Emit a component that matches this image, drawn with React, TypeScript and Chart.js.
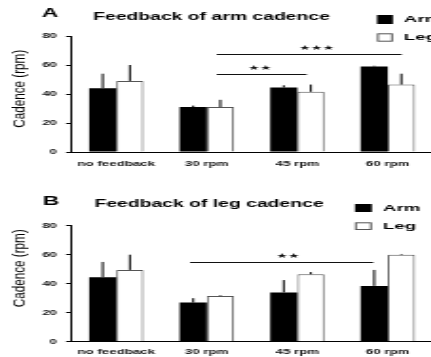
import React, { useEffect, useRef } from 'react';
import { Chart, registerables } from 'chart.js';

Chart.register(...registerables);

// ---------- data ----------
const categories = ['no feedback', '30 rpm', '45 rpm', '60 rpm'];
const yTickValues = [0, 20, 40, 60, 80];
const seriesNames = ['Arm', 'Leg'];
const yTitle = 'Cadence (rpm)';

const titleA = 'Feedback of arm cadence';
const armA = [44, 31, 44.5, 59];
const armErrA = [10, 1, 1.5, 0.5];
const legA = [49, 31, 41.5, 46.5];
const legErrA = [11, 5, 5, 7.5];
// significance brackets: from / to are category positions, level in rpm
const sigFromA = [1.11, 1.11];
const sigToA = [3.154, 2.104];
const sigLevelA = [67.8, 54];
const sigLabelA = ['★★★', '★★'];

const titleB = 'Feedback of leg cadence';
const armB = [44.5, 27, 34, 38.5];
const armErrB = [10.5, 3, 8.5, 11];
const legB = [49.5, 31.5, 46.5, 60];
const legErrB = [10.5, 0.5, 1.5, 0.5];
const sigFromB = [0.815];
const sigToB = [2.84];
const sigLevelB = [54.8];
const sigLabelB = ['★★'];

// ---------- layout (canvas units, before horizontal stretch) ----------
const S = 1.9; // horizontal stretch of the picture
const W = 232;
const FONT = '"Liberation Sans", Arial, sans-serif';

const panelA = {
  letter: 'A', title: titleA, arm: armA, armErr: armErrA, leg: legA, legErr: legErrA,
  sigFrom: sigFromA, sigTo: sigToA, sigLevel: sigLevelA, sigLabel: sigLabelA, sigT: [0.54, 0.48], sigDy: 6.7,
  top: 0, height: 180, padTop: 36, xAxisH: 28, xPad: 7.5,
  letterX: 22.1, letterY: 17, titleX: 111.3, titleY: 20,
  legX: 198.4, legW: 8.4, legRectY: [15, 33.3], legRectH: [9, 8.4], legTextX: 212.6, legTextY: [19.5, 37.5],
  yTitleX: 10.3, yTitleY: 88.8,
};
const panelB = {
  letter: 'B', title: titleB, arm: armB, armErr: armErrB, leg: legB, legErr: legErrB,
  sigFrom: sigFromB, sigTo: sigToB, sigLevel: sigLevelB, sigLabel: sigLabelB, sigT: [0.535], sigDy: 6.3,
  top: 180, height: 177, padTop: 45.7, xAxisH: 15.3, xPad: 6,
  letterX: 22.6, letterY: 25, titleX: 110, titleY: 27.3,
  legX: 186.8, legW: 8.9, legRectY: [24, 42.3], legRectH: [8, 7.7], legTextX: 201.6, legTextY: [28, 46],
  yTitleX: 10.3, yTitleY: 88.3,
};

function makeDecor(cfg: any) {
  return {
    id: 'decor' + cfg.letter,
    afterDatasetsDraw(chart: any) {
      const ctx = chart.ctx;
      const xs = chart.scales.x;
      const ys = chart.scales.y;
      ctx.save();
      ctx.strokeStyle = '#000';
      ctx.lineWidth = 1;
      chart.data.datasets.forEach((ds: any, di: number) => {
        const meta = chart.getDatasetMeta(di);
        meta.data.forEach((el: any, i: number) => {
          const topPx = ys.getPixelForValue(ds.data[i] + ds.errors[i]);
          ctx.beginPath();
          ctx.moveTo(el.x, el.y);
          ctx.lineTo(el.x, topPx);
          ctx.stroke();
        });
      });
      // significance brackets
      cfg.sigFrom.forEach((f: number, k: number) => {
        const x1 = xs.getPixelForValue(f);
        const x2 = xs.getPixelForValue(cfg.sigTo[k]);
        const py = Math.round(ys.getPixelForValue(cfg.sigLevel[k])) + 0.5;
        ctx.strokeStyle = '#111';
        ctx.beginPath();
        ctx.moveTo(x1, py);
        ctx.lineTo(x2, py);
        ctx.stroke();
        ctx.fillStyle = '#111';
        ctx.font = '7px "DejaVu Sans"';
        ctx.textAlign = 'center';
        ctx.textBaseline = 'middle';
        ctx.fillText(cfg.sigLabel[k], x1 + (x2 - x1) * cfg.sigT[k], py - cfg.sigDy);
      });
      ctx.restore();
    },
    afterDraw(chart: any) {
      const ctx = chart.ctx;
      ctx.save();
      ctx.fillStyle = '#000';
      // panel letter
      ctx.font = `bold 12px ${FONT}`;
      ctx.textAlign = 'left';
      ctx.textBaseline = 'alphabetic';
      ctx.fillText(cfg.letter, cfg.letterX, cfg.letterY);
      // title
      ctx.font = `bold 10.2px ${FONT}`;
      ctx.textAlign = 'center';
      ctx.fillText(cfg.title, cfg.titleX, cfg.titleY);
      // legend
      chart.data.datasets.forEach((ds: any, di: number) => {
        const ry = cfg.legRectY[di];
        const rh = cfg.legRectH[di];
        ctx.fillStyle = ds.backgroundColor;
        ctx.fillRect(cfg.legX, ry, cfg.legW, rh);
        if (ds.borderWidth) {
          ctx.strokeStyle = '#555';
          ctx.lineWidth = 1;
          ctx.strokeRect(cfg.legX + 0.5, ry + 0.5, cfg.legW - 1, rh - 1);
        }
        ctx.fillStyle = '#000';
        ctx.font = `bold 9.8px ${FONT}`;
        ctx.textAlign = 'left';
        ctx.textBaseline = 'middle';
        ctx.fillText(ds.label, cfg.legTextX, cfg.legTextY[di]);
      });
      // y axis title (condensed)
      ctx.translate(cfg.yTitleX, cfg.yTitleY);
      ctx.scale(0.82, 1);
      ctx.rotate(-Math.PI / 2);
      ctx.font = `11.7px ${FONT}`;
      ctx.textAlign = 'center';
      ctx.textBaseline = 'middle';
      ctx.fillStyle = '#000';
      ctx.fillText(yTitle, 0, 0);
      ctx.restore();
    },
  };
}

function Panel({ cfg }: { cfg: any }) {
  const ref = useRef<HTMLCanvasElement | null>(null);
  useEffect(() => {
    const chart = new Chart(ref.current as HTMLCanvasElement, {
      type: 'bar',
      data: {
        labels: categories,
        datasets: [
          {
            label: seriesNames[0],
            data: cfg.arm,
            errors: cfg.armErr,
            backgroundColor: '#000',
            borderWidth: 0,
            categoryPercentage: 0.6,
            barPercentage: 1,
          } as any,
          {
            label: seriesNames[1],
            data: cfg.leg,
            errors: cfg.legErr,
            backgroundColor: '#fff',
            borderColor: '#555',
            borderWidth: 1,
            categoryPercentage: 0.6,
            barPercentage: 1,
          } as any,
        ],
      },
      options: {
        responsive: false,
        maintainAspectRatio: false,
        animation: false,
        devicePixelRatio: 1,
        layout: { padding: { top: cfg.padTop, left: 0, right: 4.1, bottom: 0 } },
        plugins: { legend: { display: false }, tooltip: { enabled: false }, title: { display: false } },
        scales: {
          x: {
            grid: { display: false, drawTicks: false },
            border: { display: true, color: '#000', width: 1 },
            ticks: {
              color: '#111',
              font: { family: FONT, size: 7, weight: 'bold' },
              padding: cfg.xPad,
              maxRotation: 0,
              autoSkip: false,
            },
            afterFit: (scale: any) => { scale.height = cfg.xAxisH; },
          },
          y: {
            min: 0,
            max: 80,
            afterBuildTicks: (scale: any) => { scale.ticks = yTickValues.map((v) => ({ value: v })); },
            grid: { display: true, drawOnChartArea: false, drawTicks: true, tickLength: 2.6, color: '#000' },
            border: { display: true, color: '#000', width: 1 },
            ticks: {
              color: '#111',
              font: { family: FONT, size: 7, weight: 'bold' },
              padding: 4.8,
            },
            afterFit: (scale: any) => { scale.width = 37.4; },
          },
        },
      },
      plugins: [makeDecor(cfg)],
    } as any);
    return () => chart.destroy();
  }, []);
  return (
    <div style={{ position: 'absolute', left: 0, top: cfg.top, transform: `scaleX(${S})`, transformOrigin: '0 0' }}>
      <canvas ref={ref} width={W} height={cfg.height} style={{ display: 'block', width: W + 'px', height: cfg.height + 'px' }} />
    </div>
  );
}

export default function App() {
  return (
    <div style={{ position: 'absolute', left: 0, top: 0, width: 431, height: 357, overflow: 'hidden', background: '#fff' }}>
      <Panel cfg={panelA} />
      <Panel cfg={panelB} />
    </div>
  );
}
